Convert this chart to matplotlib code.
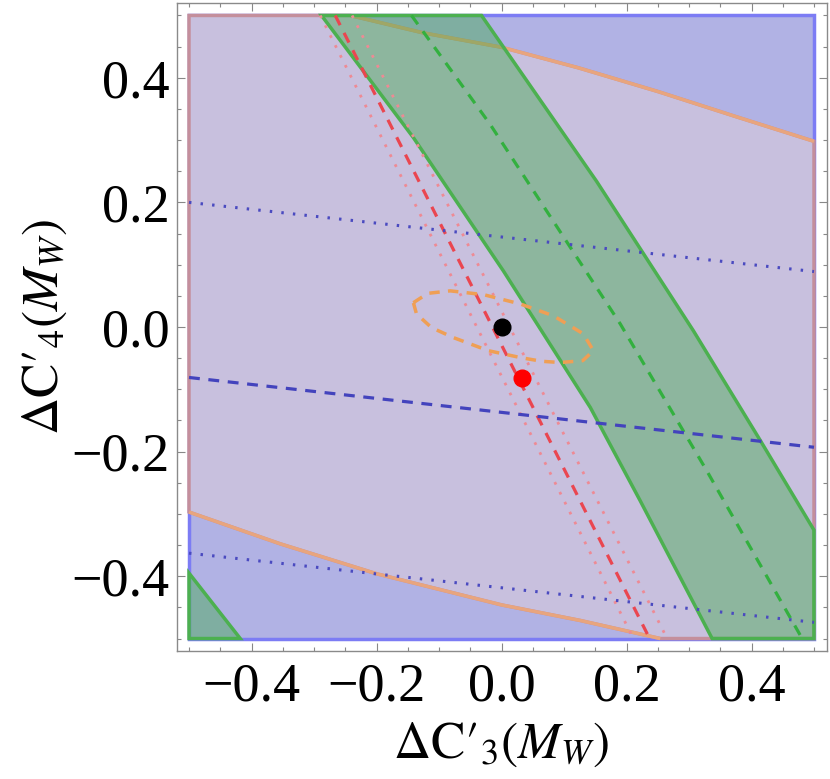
import matplotlib
matplotlib.use("Agg")
import matplotlib.pyplot as plt
from matplotlib.patches import Polygon
from matplotlib.ticker import MultipleLocator

plt.rcParams['font.family'] = ['Liberation Serif', 'DejaVu Serif']
plt.rcParams['mathtext.fontset'] = 'stix'

# square region (whole plotted domain)
square_x = [-0.5, 0.5, 0.5, -0.5]
square_y = [-0.5, -0.5, 0.5, 0.5]

# big ellipse (pink region), upper and lower boundary
ell_upper_x = [-0.242, -0.125, 0.0, 0.123, 0.25, 0.374, 0.5]
ell_upper_y = [0.5, 0.472, 0.449, 0.416, 0.378, 0.338, 0.298]
ell_lower_x = [0.254, 0.126, 0.0, -0.2, -0.354, -0.5]
ell_lower_y = [-0.5, -0.471, -0.446, -0.396, -0.348, -0.297]

# green band
band_left_x = [-0.288, -0.141, 0.003, 0.142, 0.222, 0.337]
band_left_y = [0.5, 0.304, 0.09, -0.129, -0.279, -0.5]
band_right_x = [-0.032, 0.152, 0.307, 0.414, 0.5]
band_right_y = [0.5, 0.234, -0.006, -0.182, -0.326]
corner_x = [-0.5, -0.5, -0.418]
corner_y = [-0.395, -0.5, -0.5]
green_dash_x = [-0.144, -0.018, 0.19, 0.328, 0.481]
green_dash_y = [0.5, 0.325, 0.005, -0.23, -0.5]

# red central line and its band
red_dash_x = [-0.266, 0.237]
red_dot_lo_x = [-0.29, 0.211]
red_dot_hi_x = [-0.239, 0.265]
red_y = [0.5, -0.5]

# blue central line and its band
blue_x = [-0.5, 0.5]
blue_dash_y = [-0.081, -0.193]
blue_dot_hi_y = [0.2, 0.089]
blue_dot_lo_y = [-0.363, -0.474]

# small orange dashed contour
orange_x = [-0.141, -0.118, -0.082, -0.029, 0.030, 0.083, 0.131, 0.147, 0.13,
            0.094, 0.064, 0.030, -0.021, -0.077, -0.112, -0.136, -0.141]
orange_y = [0.039, 0.054, 0.058, 0.052, 0.037, 0.018, -0.011, -0.038, -0.054,
            -0.057, -0.055, -0.049, -0.038, -0.017, -0.001, 0.021, 0.039]

# points
black_pt = (0.0, 0.0)
red_pt = (0.032, -0.082)

ticks = [-0.4, -0.2, 0.0, 0.2, 0.4]
tick_labels = ['\u22120.4', '\u22120.2', '0.0', '0.2', '0.4']

blue_fill = '#b1b2e4'
blue_edge = '#7c7cf4'
pink_fill = '#c8c0de'
pink_edge = '#c48f9c'
orange_edge = '#e8a57e'
green_c = '#3caa46'
green_edge = '#4cb050'

fig = plt.figure(figsize=(8.3, 7.79), dpi=100)
ax = fig.add_axes([176.5 / 830, 1 - 651 / 779, 650 / 830, 648 / 779])

# blue square
ax.add_patch(Polygon(list(zip(square_x, square_y)), closed=True,
                     facecolor=blue_fill, edgecolor=blue_edge, lw=2.5, zorder=1))

# pink region = ellipse clipped to the square
pink_pts = [(-0.5, 0.5)] + list(zip(ell_upper_x, ell_upper_y)) + [(0.5, -0.5)] \
    + list(zip(ell_lower_x, ell_lower_y))
ax.add_patch(Polygon(pink_pts, closed=True, facecolor=pink_fill,
                     edgecolor=pink_edge, lw=2.5, zorder=2))
ax.plot(ell_upper_x, ell_upper_y, color=orange_edge, lw=2.5, zorder=3,
        solid_capstyle='butt')
ax.plot(ell_lower_x, ell_lower_y, color=orange_edge, lw=2.5, zorder=3,
        solid_capstyle='butt')

# green band and corner piece
band_pts = list(zip(band_left_x, band_left_y)) + [(0.5, -0.5)] \
    + list(zip(band_right_x[::-1], band_right_y[::-1]))
ax.add_patch(Polygon(band_pts, closed=True, facecolor=green_c, alpha=0.42,
                     edgecolor='none', zorder=4))
ax.add_patch(Polygon(band_pts, closed=True, facecolor='none',
                     edgecolor=green_edge, lw=2.5, zorder=4))
ax.add_patch(Polygon(list(zip(corner_x, corner_y)), closed=True, facecolor=green_c,
                     alpha=0.42, edgecolor='none', zorder=4))
ax.add_patch(Polygon(list(zip(corner_x, corner_y)), closed=True, facecolor='none',
                     edgecolor=green_edge, lw=2.5, zorder=4))

# lines
ax.plot(green_dash_x, green_dash_y, color='#33b03f', lw=2.3, dashes=(3.4, 2.7), zorder=5)
ax.plot(red_dot_lo_x, red_y, color='#ee8a94', lw=2.0, dashes=(1.0, 3.0), zorder=5)
ax.plot(red_dot_hi_x, red_y, color='#ee8a94', lw=2.0, dashes=(1.0, 3.0), zorder=5)
ax.plot(red_dash_x, red_y, color='#ea4650', lw=2.3, dashes=(3.4, 2.7), zorder=5)
ax.plot(blue_x, blue_dash_y, color='#4343bd', lw=2.3, dashes=(3.4, 2.7), zorder=5)
ax.plot(blue_x, blue_dot_hi_y, color='#4a4ac0', lw=2.2, dashes=(0.8, 3.0), zorder=5)
ax.plot(blue_x, blue_dot_lo_y, color='#4a4ac0', lw=2.2, dashes=(0.8, 3.0), zorder=5)
ax.plot(orange_x, orange_y, color='#ef9f55', lw=2.5, dashes=(3.0, 2.4), zorder=5)

ax.plot(*black_pt, 'o', color='black', ms=12, zorder=6)
ax.plot(*red_pt, 'o', color='red', ms=12, zorder=6)

ax.set_xlim(-0.52, 0.52)
ax.set_ylim(-0.52, 0.52)
ax.set_xticks(ticks)
ax.set_xticklabels(tick_labels)
ax.set_yticks(ticks)
ax.set_yticklabels(tick_labels)
ax.xaxis.set_minor_locator(MultipleLocator(0.05))
ax.yaxis.set_minor_locator(MultipleLocator(0.05))
ax.tick_params(which='both', direction='in', top=True, right=True,
               color='#888888', width=0.8, labelsize=39, pad=5)
ax.tick_params(axis='x', which='both', pad=8)
ax.tick_params(which='major', length=6)
ax.tick_params(which='minor', length=3)
for s in ax.spines.values():
    s.set_color('#8a8a8a')
    s.set_linewidth(1.0)

ax.set_xlabel(r'$\Delta\mathrm{C}\prime_{3}(M_W)$', fontsize=37, labelpad=6)
ax.set_ylabel(r'$\Delta\mathrm{C}\prime_{4}(M_W)$', fontsize=37, labelpad=2)

fig.savefig('out.png', dpi=100)
